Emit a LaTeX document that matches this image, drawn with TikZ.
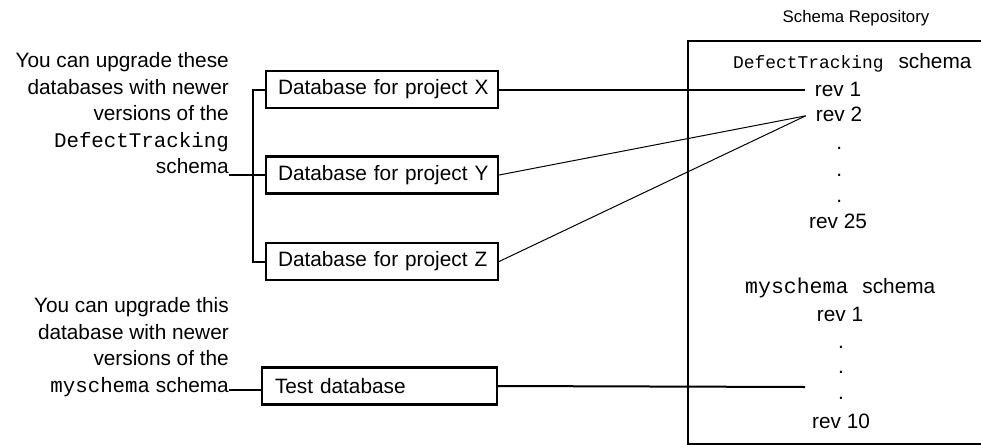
\documentclass[tikz,border=0pt]{standalone}
\usepackage{fontspec}
\setmainfont{Liberation Sans}
\setmonofont{Liberation Mono}
\usetikzlibrary{positioning}

\begin{document}
\begin{tikzpicture}[x=1pt, y=-1pt,
    txt/.style={font=\fontsize{20.8pt}{26.5pt}\selectfont, inner sep=0pt},
    note/.style={txt, align=right, anchor=north east},
    rev/.style={txt, anchor=base, inner xsep=10pt},
    dbbox/.style={draw, line width=2.2pt, font=\fontsize{20.8pt}{26.5pt}\selectfont,
        text width=214pt, inner xsep=9pt, minimum height=37pt, align=left,
        execute at begin node=\hspace*{3pt}},
    link/.style={line width=2pt},
    thin link/.style={line width=1pt}]
    \useasboundingbox (0,0) rectangle (981,444);
    \clip (0,0) rectangle (981,444);

    \node[note] at (229,52.5) (noteA) {You can upgrade these\\databases with newer\\versions of the\\\texttt{DefectTracking}\\schema};
    \node[note] at (229,297.7) (noteB) {You can upgrade this\\database with newer\\versions of the\\\texttt{myschema} schema};

    \node[dbbox] at (382,89.5) (dbX) {Database for project X};
    \node[dbbox] at (382,175) (dbY) {Database for project Y};
    \node[dbbox] at (382,261.5) (dbZ) {Database for project Z};
    \node[dbbox, text width=217pt, execute at begin node=\hspace*{1pt}] at (379.5,386) (dbT) {Test database};

    \node[draw, line width=2.2pt, minimum width=310pt, minimum height=402.5pt,
        anchor=north west] at (687,40) (repo) {};
    \node[txt, anchor=base, font=\fontsize{16.8pt}{20pt}\selectfont] at (856,23) (repoT) {Schema Repository};

    \node[txt, anchor=base west] at (733,68) (hdrA) {{\fontsize{17.9pt}{20pt}\selectfont\texttt{DefectTracking}}\hspace{15pt}schema};
    \node[rev] at (838,96) (revA1) {rev 1};
    \node[rev] at (839,121) (revA2) {rev 2};
    \foreach \y in {149.5,176,202}
        \node[rev] at (839.3,\y) (dotA\y) {.};
    \node[rev] at (838,228) (revA25) {rev 25};

    \node[txt, anchor=base west] at (745,293) (hdrB) {{\fontsize{21.5pt}{26pt}\selectfont\texttt{myschema}}\hspace{14pt}schema};
    \node[rev] at (840,321) (revB1) {rev 1};
    \foreach \y in {348,373,399.5}
        \node[rev] at (841,\y) (dotB\y) {.};
    \node[rev] at (841,428) (revB10) {rev 10};

    \coordinate (brkA) at (253,175);
    \coordinate (inT) at ([yshift=-4pt]dbT.west);
    \coordinate (endT) at (805,387);

    \draw[link] (noteA.east |- brkA) -- (brkA);
    \draw[link] (dbX.west) -| (brkA) |- (dbZ.west);
    \draw[link] (brkA) -- (dbY.west);
    \draw[link] (noteB.east |- inT) -- (inT);

    \draw[link] (dbX.east) -- (dbX.east -| revA1.west);
    \draw[thin link] (dbY.east) -- ([yshift=-2pt]revA2.west);
    \draw[thin link] (dbZ.east) -- ([yshift=-2pt]revA2.west);
    \draw[link] (dbT.east) -- (endT);
\end{tikzpicture}
\end{document}
